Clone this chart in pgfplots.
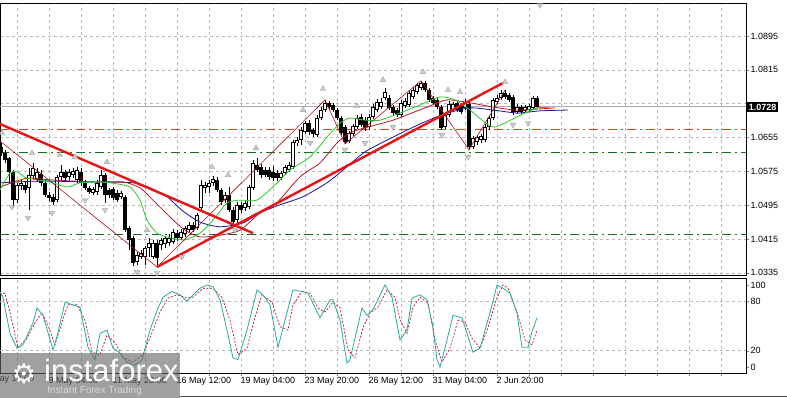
\documentclass[border=0pt]{standalone}
\usepackage{fontspec}
\setmainfont{Liberation Sans}
\newfontfamily\dejavu{DejaVu Sans}
\usepackage{pgfplots}
\usepackage{pgfplotstable}
\pgfplotsset{compat=1.18}
\definecolor{mtred}{RGB}{230,20,20}
\definecolor{zz}{RGB}{170,20,30}
\definecolor{teeth}{RGB}{185,20,40}
\definecolor{lips}{RGB}{40,205,40}
\definecolor{jaw}{RGB}{20,20,160}
\definecolor{stk}{RGB}{40,170,160}
\definecolor{sig}{RGB}{190,20,50}
\definecolor{lvlred}{RGB}{210,70,30}
\definecolor{lvlgreen}{RGB}{20,110,30}

\pgfplotstableread{
h O H L C
-48 1.0633 1.0642 1.0611 1.0618
-44 1.0618 1.0626 1.0595 1.0602
-40 1.0607 1.0609 1.0548 1.0574
-36 1.0574 1.0578 1.0489 1.0507
-32 1.0507 1.0548 1.0500 1.0543
-28 1.0540 1.0555 1.0531 1.0548
-24 1.0543 1.0550 1.0524 1.0531
-20 1.0536 1.0583 1.0484 1.0566
-16 1.0564 1.0595 1.0555 1.0583
-12 1.0555 1.0583 1.0550 1.0574
-8 1.0569 1.0578 1.0540 1.0548
-4 1.0548 1.0555 1.0515 1.0519
0 1.0519 1.0526 1.0505 1.0512
4 1.0515 1.0522 1.0496 1.0503
8 1.0507 1.0566 1.0503 1.0562
12 1.0562 1.0590 1.0555 1.0574
16 1.0574 1.0578 1.0550 1.0559
20 1.0562 1.0581 1.0555 1.0574
24 1.0566 1.0583 1.0559 1.0576
28 1.0555 1.0585 1.0548 1.0578
32 1.0574 1.0583 1.0540 1.0548
36 1.0548 1.0555 1.0531 1.0536
40 1.0536 1.0540 1.0522 1.0526
44 1.0524 1.0538 1.0519 1.0533
48 1.0526 1.0555 1.0519 1.0548
52 1.0538 1.0578 1.0533 1.0566
56 1.0566 1.0571 1.0500 1.0519
60 1.0531 1.0536 1.0512 1.0519
64 1.0533 1.0538 1.0507 1.0512
68 1.0524 1.0531 1.0503 1.0507
72 1.0515 1.0529 1.0510 1.0524
76 1.0515 1.0519 1.0432 1.0436
80 1.0441 1.0446 1.0389 1.0413
84 1.0418 1.0422 1.0351 1.0359
88 1.0361 1.0385 1.0354 1.0377
92 1.0373 1.0389 1.0368 1.0382
96 1.0373 1.0399 1.0354 1.0394
100 1.0394 1.0418 1.0373 1.0406
104 1.0373 1.0413 1.0368 1.0406
108 1.0406 1.0413 1.0349 1.0370
112 1.0401 1.0418 1.0389 1.0413
116 1.0403 1.0422 1.0394 1.0418
120 1.0406 1.0427 1.0399 1.0418
124 1.0408 1.0439 1.0403 1.0432
128 1.0429 1.0436 1.0411 1.0418
132 1.0418 1.0439 1.0413 1.0432
136 1.0427 1.0446 1.0420 1.0441
140 1.0436 1.0455 1.0432 1.0448
144 1.0448 1.0455 1.0432 1.0436
148 1.0441 1.0477 1.0436 1.0472
152 1.0489 1.0555 1.0484 1.0543
156 1.0536 1.0550 1.0524 1.0543
160 1.0538 1.0555 1.0524 1.0548
164 1.0548 1.0564 1.0540 1.0557
168 1.0555 1.0562 1.0526 1.0531
172 1.0531 1.0536 1.0496 1.0503
176 1.0507 1.0526 1.0500 1.0519
180 1.0519 1.0538 1.0479 1.0484
184 1.0484 1.0491 1.0451 1.0455
188 1.0460 1.0503 1.0451 1.0496
192 1.0496 1.0503 1.0477 1.0484
196 1.0489 1.0507 1.0481 1.0500
200 1.0491 1.0543 1.0486 1.0538
204 1.0536 1.0602 1.0531 1.0595
208 1.0590 1.0607 1.0574 1.0578
212 1.0585 1.0592 1.0559 1.0566
216 1.0578 1.0585 1.0562 1.0566
220 1.0578 1.0585 1.0555 1.0562
224 1.0574 1.0588 1.0552 1.0559
228 1.0571 1.0578 1.0552 1.0559
232 1.0559 1.0576 1.0555 1.0571
236 1.0571 1.0590 1.0566 1.0585
240 1.0578 1.0597 1.0574 1.0590
244 1.0585 1.0649 1.0581 1.0645
248 1.0642 1.0656 1.0635 1.0649
252 1.0649 1.0680 1.0637 1.0673
256 1.0668 1.0694 1.0663 1.0689
260 1.0689 1.0696 1.0661 1.0668
264 1.0673 1.0678 1.0656 1.0663
268 1.0661 1.0708 1.0656 1.0701
272 1.0701 1.0727 1.0696 1.0720
276 1.0720 1.0744 1.0715 1.0737
280 1.0737 1.0741 1.0722 1.0727
284 1.0732 1.0737 1.0715 1.0720
288 1.0720 1.0725 1.0696 1.0701
292 1.0701 1.0706 1.0661 1.0666
296 1.0680 1.0685 1.0640 1.0645
300 1.0647 1.0670 1.0642 1.0666
304 1.0663 1.0687 1.0659 1.0682
308 1.0680 1.0708 1.0675 1.0701
312 1.0704 1.0711 1.0680 1.0685
316 1.0696 1.0704 1.0670 1.0678
320 1.0680 1.0711 1.0675 1.0704
324 1.0704 1.0734 1.0699 1.0727
328 1.0720 1.0746 1.0715 1.0739
332 1.0727 1.0748 1.0722 1.0739
336 1.0748 1.0772 1.0744 1.0763
340 1.0748 1.0756 1.0720 1.0725
344 1.0727 1.0732 1.0708 1.0713
348 1.0720 1.0725 1.0704 1.0708
352 1.0708 1.0744 1.0704 1.0737
356 1.0730 1.0748 1.0725 1.0741
360 1.0732 1.0765 1.0727 1.0760
364 1.0751 1.0774 1.0746 1.0767
368 1.0763 1.0784 1.0758 1.0779
372 1.0772 1.0789 1.0767 1.0784
376 1.0784 1.0789 1.0763 1.0767
380 1.0767 1.0772 1.0739 1.0744
384 1.0748 1.0753 1.0732 1.0737
388 1.0744 1.0748 1.0722 1.0727
392 1.0727 1.0732 1.0673 1.0678
396 1.0680 1.0713 1.0675 1.0708
400 1.0708 1.0741 1.0704 1.0734
404 1.0720 1.0739 1.0715 1.0734
408 1.0737 1.0741 1.0715 1.0720
412 1.0730 1.0737 1.0711 1.0715
416 1.0725 1.0746 1.0720 1.0739
420 1.0734 1.0739 1.0626 1.0633
424 1.0633 1.0659 1.0628 1.0654
428 1.0645 1.0661 1.0637 1.0656
432 1.0649 1.0663 1.0642 1.0659
436 1.0649 1.0687 1.0645 1.0680
440 1.0680 1.0706 1.0673 1.0701
444 1.0701 1.0748 1.0696 1.0744
448 1.0739 1.0756 1.0734 1.0748
452 1.0748 1.0767 1.0744 1.0760
456 1.0760 1.0767 1.0746 1.0751
460 1.0756 1.0760 1.0739 1.0744
464 1.0751 1.0756 1.0708 1.0715
468 1.0715 1.0734 1.0711 1.0727
472 1.0727 1.0732 1.0711 1.0715
476 1.0718 1.0732 1.0713 1.0727
480 1.0720 1.0734 1.0715 1.0730
484 1.0725 1.0753 1.0720 1.0748
488 1.0748 1.0753 1.0725 1.0728
}\candles

\begin{document}
\begin{tikzpicture}
\fill[white] (0pt,0pt) rectangle (787pt,-398pt);
\begin{axis}[
  at={(0pt,-3pt)}, anchor=north west,
  width=746pt, height=272pt, scale only axis,
  xmin=-49, xmax=697, ymin=1.0330, ymax=1.0973,
  axis line style={black, line width=0.8pt},
  ytick={1.0335,1.0415,1.0495,1.0575,1.0655,1.0735,1.0815,1.0895},
  yticklabels={1.0335,1.0415,1.0495,1.0575,1.0655,{},1.0815,1.0895},
  ytick pos=right, yticklabel pos=right,
  tick align=outside, major tick length=3pt,
  yticklabel style={font=\fontsize{9}{10}\selectfont, inner sep=1.5pt},
  xtick={-32,0,...,672}, xticklabels={},
  xtick style={draw=none},
  xmajorgrids, ymajorgrids,
  grid style={gray!55, dash pattern=on 3pt off 3pt, line width=0.5pt},
]
% levels
\addplot[lvlred, line width=0.8pt, dash pattern=on 9pt off 4pt on 2pt off 4pt] coordinates {(-49,1.0675) (697,1.0675)};
\addplot[lvlgreen, line width=0.8pt, dash pattern=on 9pt off 4pt on 2pt off 4pt] coordinates {(-49,1.0621) (697,1.0621)};
\addplot[lvlgreen, line width=0.8pt, dash pattern=on 9pt off 4pt on 2pt off 4pt] coordinates {(-49,1.0425) (697,1.0425)};
\addplot[gray!65, line width=0.7pt] coordinates {(-49,1.0728) (697,1.0728)};
% candles: wicks
\addplot[draw=none, forget plot, error bars/.cd, y dir=both, y explicit, error mark=none,
  error bar style={draw=black, line width=0.9pt}]
  table[x=h, y expr={(\thisrow{H}+\thisrow{L})/2}, y error expr={(\thisrow{H}-\thisrow{L})/2}] {\candles};
% bodies
\addplot[draw=none, forget plot, error bars/.cd, y dir=both, y explicit, error mark=none,
  error bar style={draw=black, line width=3.2pt}]
  table[x=h, y expr={(\thisrow{O}+\thisrow{C})/2}, y error expr={abs(\thisrow{O}-\thisrow{C})/2}] {\candles};
% bull inner
\addplot[draw=none, forget plot, restrict expr to domain={(\thisrow{C}-\thisrow{O})*10000}{0.5:1000},
  error bars/.cd, y dir=both, y explicit, error mark=none,
  error bar style={draw=white, line width=1.4pt}]
  table[x=h, y expr={(\thisrow{O}+\thisrow{C})/2}, y error expr={max((\thisrow{C}-\thisrow{O})/2-0.00022,0)}] {\candles};
% alligator: jaw, teeth, lips
\addplot[jaw, line width=0.8pt, smooth, tension=0.4] coordinates {
(-49,1.0548) (-9,1.0552) (41,1.0550) (84,1.0548) (101,1.0536) (118,1.0515) (134,1.0481)
(151,1.0455) (171,1.0444) (194,1.0453) (211,1.0477) (231,1.0496) (254,1.0515) (278,1.0548)
(294,1.0578) (316,1.0621) (344,1.0656) (371,1.0687) (396,1.0711) (421,1.0725) (444,1.0720)
(468,1.0713) (491,1.0718) (519,1.0720)};
\addplot[teeth, line width=0.8pt, smooth, tension=0.4] coordinates {
(-49,1.0538) (-22,1.0559) (1,1.0555) (44,1.0550) (74,1.0550) (91,1.0536) (104,1.0507)
(121,1.0467) (136,1.0436) (151,1.0420) (171,1.0424) (191,1.0436) (211,1.0477) (226,1.0496)
(251,1.0562) (271,1.0595) (288,1.0642) (301,1.0666) (316,1.0678) (344,1.0696) (378,1.0727)
(398,1.0744) (421,1.0737) (444,1.0727) (468,1.0720) (506,1.0725)};
\addplot[lips, line width=0.8pt, smooth, tension=0.4] coordinates {
(-49,1.0531) (-39,1.0571) (-32,1.0574) (-22,1.0559) (1,1.0550) (18,1.0538) (31,1.0548)
(46,1.0550) (61,1.0548) (81,1.0538) (91,1.0507) (98,1.0460) (108,1.0429) (121,1.0418)
(136,1.0413) (151,1.0429) (164,1.0460) (178,1.0500) (191,1.0507) (208,1.0507) (226,1.0543)
(241,1.0578) (261,1.0609) (278,1.0656) (291,1.0689) (301,1.0701) (316,1.0696) (331,1.0696)
(351,1.0713) (371,1.0732) (391,1.0751) (406,1.0744) (421,1.0720) (444,1.0680) (468,1.0704)
(488,1.0725) (501,1.0725)};
% zigzag
\addplot[zz, line width=0.6pt] coordinates {
(-49,1.0647) (108,1.0349) (276,1.0744) (296,1.0640) (372,1.0789) (420,1.0626) (456,1.0767)};
% trend lines
\addplot[mtred, line width=2.4pt] coordinates {(-49,1.0687) (204,1.0429)};
\addplot[mtred, line width=2.4pt] coordinates {(108,1.0349) (454,1.0784)};
% fractals
\addplot[only marks, mark=triangle*, mark size=3.2pt, mark options={fill=gray!40, draw=gray!70, line width=0.4pt}] coordinates {
(-47,1.0666) (-17,1.0618) (11,1.0614) (26,1.0609) (58,1.0597) (98,1.0436) (163,1.0585)
(179,1.0566) (207,1.0630) (254,1.0720) (274,1.0770) (308,1.0730) (334,1.0791) (374,1.0810)
(399,1.0767) (411,1.0763) (456,1.0786)};
\addplot[only marks, mark=triangle*, mark size=3.2pt, mark options={rotate=180, fill=gray!40, draw=gray!70, line width=0.4pt}] coordinates {
(-37,1.0491) (-21,1.0465) (3,1.0477) (36,1.0507) (56,1.0484) (88,1.0337) (108,1.0335)
(133,1.0373) (186,1.0436) (261,1.0642) (296,1.0626) (316,1.0642) (344,1.0680) (393,1.0661)
(419,1.0609) (464,1.0685) (479,1.0689) (491,1.0968)};
\end{axis}

\begin{axis}[
  at={(0pt,-278pt)}, anchor=north west,
  width=746pt, height=95pt, scale only axis,
  xmin=-49, xmax=697, ymin=-7.3, ymax=108.5,
  axis line style={black, line width=0.8pt},
  ytick={0,20,80,100}, yticklabels={0,20,80,100},
  ytick pos=right, yticklabel pos=right,
  tick align=outside, major tick length=3pt,
  yticklabel style={font=\fontsize{9}{10}\selectfont, inner sep=1.5pt},
  xtick={-32,0,...,672},
  xticklabels={{},{9 May 04:00},{},{11 May 20:00},{},{16 May 12:00},{},{19 May 04:00},{},{23 May 20:00},{},{26 May 12:00},{},{31 May 04:00},{},{2 Jun 20:00}},
  xtick pos=bottom,
  xticklabel style={font=\fontsize{9}{10}\selectfont, anchor=north west, xshift=-1.5pt, inner sep=1pt},
  xmajorgrids,
  grid style={gray!55, dash pattern=on 3pt off 3pt, line width=0.5pt},
]
\addplot[gray!55, dash pattern=on 3pt off 3pt, line width=0.5pt] coordinates {(-49,20) (697,20)};
\addplot[gray!55, dash pattern=on 3pt off 3pt, line width=0.5pt] coordinates {(-49,80) (697,80)};
\addplot[sig, line width=0.7pt, dash pattern=on 2pt off 1.6pt] coordinates {
(-49,88) (-44,90) (-39,66) (-31,24) (-22,35) (-14,54) (-7,66) (-1,51) (6,27) (13,55) (19,76)
(28,76) (36,57) (43,18) (51,15) (58,39) (66,30) (74,12) (84,6) (94,15) (104,45) (111,67)
(119,84) (128,88) (136,85) (144,85) (154,96) (164,96) (173,85) (181,57) (189,15) (198,23)
(206,61) (213,88) (223,79) (231,49) (239,45) (244,76) (253,92) (261,90) (269,72) (276,67)
(284,79) (291,72) (299,21) (306,11) (314,48) (321,66) (329,73) (338,94) (346,85) (351,58)
(358,41) (364,73) (371,85) (379,78) (386,33) (393,6) (401,23) (409,57) (416,55) (423,35)
(431,23) (439,48) (448,85) (454,100) (459,96) (468,67) (476,33) (483,27) (488,45)};
\addplot[stk, line width=0.8pt] coordinates {
(-49,92) (-46,85) (-39,41) (-32,23) (-26,27) (-16,54) (-12,72) (-6,63) (4,21) (8,37) (16,79)
(23,76) (31,73) (39,24) (46,9) (51,41) (58,45) (64,23) (71,17) (78,6) (86,2) (93,9) (101,45)
(109,72) (114,85) (123,92) (131,88) (138,80) (144,88) (151,96) (158,100) (164,98) (171,82)
(178,45) (184,11) (189,9) (198,45) (208,94) (214,88) (221,76) (229,24) (236,57) (244,94)
(253,92) (259,90) (271,60) (281,82) (284,82) (291,57) (298,5) (301,9) (313,72) (318,63)
(324,70) (336,100) (343,85) (351,33) (358,45) (363,84) (371,88) (378,82) (384,49) (388,9)
(391,0) (398,33) (404,63) (413,60) (418,41) (424,18) (431,23) (441,66) (448,100) (454,96)
(461,90) (468,66) (473,24) (479,24) (483,43) (488,60)};
\end{axis}

% current price label
\node[fill=black, text=white, font=\bfseries\fontsize{9}{10}\selectfont, anchor=west, inner sep=1.6pt] at (747pt,-107pt) {1.0728};
% partial first date label
\node[anchor=north west, font=\fontsize{9}{10}\selectfont, inner sep=1pt] at (-16.5pt,-374pt) {6 May 12:00};
% bottom tab line
\draw[black!70, line width=0.6pt] (180pt,-396.5pt) -- (787pt,-396.5pt);
% watermark
\fill[black!60, opacity=0.62] (0pt,-353pt) rectangle (180pt,-398pt);
\node[text=white, font=\dejavu\fontsize{27}{27}\selectfont, anchor=center] at (24pt,-374pt) {⚙};
\node[text=white, font=\fontsize{31}{31}\selectfont, anchor=base west, inner sep=0pt] at (44pt,-381pt) {instaforex};
\node[text=white!85!black, font=\fontsize{10}{10}\selectfont, anchor=base west, inner sep=0pt] at (47pt,-393pt) {Instant Forex Trading};
\pgfresetboundingbox
\path[use as bounding box] (0pt,0pt) rectangle (787pt,-398pt);
\end{tikzpicture}
\end{document}
